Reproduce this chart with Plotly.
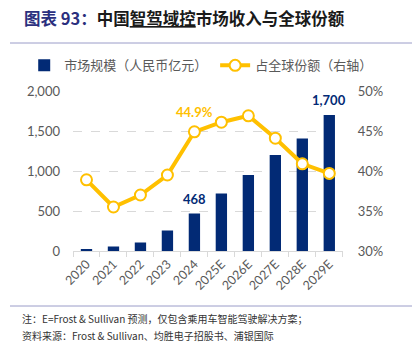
import plotly.graph_objects as go
from plotly.subplots import make_subplots

years = ["2020", "2021", "2022", "2023", "2024", "2025E", "2026E", "2027E", "2028E", "2029E"]
market_size = [15, 55, 105, 255, 468, 720, 950, 1200, 1405, 1700]
global_share = [38.9, 35.5, 37.0, 39.5, 44.9, 46.1, 46.9, 44.1, 40.9, 39.7]
left_ticks = [0, 500, 1000, 1500, 2000]
left_labels = ["0", "500", "1,000", "1,500", "2,000"]
right_ticks = [30, 35, 40, 45, 50]
right_labels = ["30%", "35%", "40%", "45%", "50%"]

NAVY = "#022A75"
GOLD = "#FFC000"
GRAY = "#595959"
CJK = "Noto Sans CJK SC"
NUM = "Lato, Noto Sans CJK SC"

fig = make_subplots(specs=[[{"secondary_y": True}]])
fig.add_trace(go.Bar(x=years, y=market_size, name="市场规模（人民币亿元）\u00a0",
                     marker=dict(color=NAVY, line=dict(width=0)), width=0.42),
              secondary_y=False)
fig.add_trace(go.Scatter(x=years, y=global_share, name="占全球份额（右轴）",
                         mode="lines+markers",
                         line=dict(color=GOLD, width=4),
                         marker=dict(size=11, color="white", line=dict(color=GOLD, width=2))),
              secondary_y=True)

fig.update_layout(
    width=418, height=343,
    margin=dict(l=73, r=58, t=91, b=92),
    paper_bgcolor="white", plot_bgcolor="white",
    font=dict(family=NUM, color=GRAY, size=12),
    showlegend=True,
    legend=dict(orientation="h", x=-0.17, y=1.16, xanchor="left", yanchor="middle",
                font=dict(family=CJK, size=13, color=GRAY), traceorder="normal",
                itemwidth=30, bgcolor="rgba(0,0,0,0)"),
)
fig.update_xaxes(type="category", range=[-0.5, len(years) - 0.5],
                 showline=True, linecolor="#D9D9D9", linewidth=1,
                 ticks="outside", tickson="boundaries", ticklen=5, tickcolor="#D9D9D9",
                 tickangle=-45, tickfont=dict(family=NUM, size=12.5, color=GRAY),
                 showgrid=False)
fig.update_yaxes(range=[0, 2000], tickmode="array", tickvals=left_ticks, ticktext=left_labels,
                 showgrid=True, gridcolor="#D9D9D9", griddash="dash", gridwidth=1,
                 zeroline=False, showline=False,
                 tickfont=dict(family=NUM, size=13, color=GRAY), ticklabelstandoff=12,
                 secondary_y=False)
fig.update_yaxes(range=[30, 50], tickmode="array", tickvals=right_ticks, ticktext=right_labels,
                 showgrid=False, zeroline=False, showline=False,
                 tickfont=dict(family=NUM, size=13, color=GRAY), ticklabelstandoff=14,
                 secondary_y=True)

# data labels (category index positions)
i24 = years.index("2024")
i29 = years.index("2029E")
fig.add_annotation(x=i24, y=global_share[i24], xref="x", yref="y2", text="<b>44.9%</b>",
                   showarrow=False, yshift=20, font=dict(family=NUM, size=13, color=GOLD))
fig.add_annotation(x=i24, y=market_size[i24], xref="x", yref="y", text="<b>468</b>",
                   showarrow=False, yshift=15, font=dict(family=NUM, size=13, color=NAVY))
fig.add_annotation(x=i29, y=market_size[i29], xref="x", yref="y", text="<b>1,700</b>",
                   showarrow=False, yshift=15, font=dict(family=NUM, size=13, color=NAVY))

def px(xp):
    return (xp - 73) / 287.0

def py(yp):
    return (251 - yp) / 160.0

# title
fig.add_annotation(xref="paper", yref="paper", x=px(22), y=py(18), xanchor="left", yanchor="middle",
                   showarrow=False,
                   text="<b><span style='color:#2B2F7E'>图表 93：</span>中国<span style='text-decoration:underline'>智驾域控</span>市场收入与全球份额</b>",
                   font=dict(family=CJK, size=16.5, color="#1a1a1a"))
# separator lines
for yp in (43, 306):
    fig.add_shape(type="line", xref="paper", yref="paper", x0=px(10), x1=px(412), y0=py(yp), y1=py(yp),
                  line=dict(color="#9A9CC8", width=1))
# notes
fig.add_annotation(xref="paper", yref="paper", x=px(20), y=py(318), xanchor="left", yanchor="middle",
                   showarrow=False, text="注：E=Frost & Sullivan 预测，仅包含乘用车智能驾驶解决方案；",
                   font=dict(family=CJK, size=10, color="#333333"))
fig.add_annotation(xref="paper", yref="paper", x=px(20), y=py(335), xanchor="left", yanchor="middle",
                   showarrow=False, text="资料来源：Frost & Sullivan、均胜电子招股书、浦银国际",
                   font=dict(family=CJK, size=10, color="#333333"))

fig.write_html("out.html")
